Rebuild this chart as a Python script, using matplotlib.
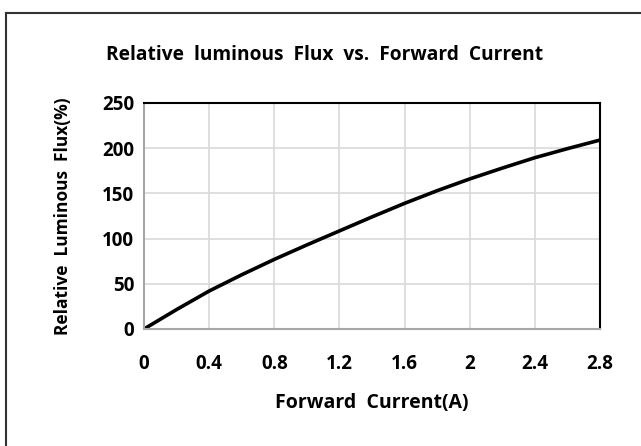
import matplotlib
matplotlib.use("Agg")
import matplotlib.pyplot as plt
from matplotlib.lines import Line2D

current = [0.0, 0.2, 0.4, 0.6, 0.8, 1.0, 1.2, 1.4, 1.6, 1.8, 2.0, 2.2, 2.4, 2.6, 2.8]
flux = [0, 21.5, 42, 60, 77, 93, 108.5, 124, 139, 153, 166, 178, 189.5, 199.5, 209]
xticks = [0, 0.4, 0.8, 1.2, 1.6, 2.0, 2.4, 2.8]
xticklabels = ["0", "0.4", "0.8", "1.2", "1.6", "2", "2.4", "2.8"]
yticks = [0, 50, 100, 150, 200, 250]

plt.rcParams['font.family'] = ['Open Sans', 'DejaVu Sans']

fig = plt.figure(figsize=(6.41, 4.46), dpi=100)
ax = fig.add_axes([144/641, 1-329/446, (600-144)/641, (329-103)/446])

ax.plot(current, flux, color='black', lw=2.6, solid_capstyle='round', solid_joinstyle='round')
ax.set_xlim(0, 2.8)
ax.set_ylim(0, 250)
ax.set_xticks(xticks)
ax.set_xticklabels(xticklabels)
ax.set_yticks(yticks)
ax.grid(True, color='#d9d9d9', lw=1.2)
ax.set_axisbelow(True)
ax.tick_params(length=0, labelsize=13.5)
ax.tick_params(axis='x', pad=18)
ax.tick_params(axis='y', pad=7)
for lab in ax.get_xticklabels() + ax.get_yticklabels():
    lab.set_fontweight('bold')
for s in ['top', 'right']:
    ax.spines[s].set_color('black')
    ax.spines[s].set_linewidth(1.5)
for s in ['left', 'bottom']:
    ax.spines[s].set_color('#a6a6a6')
    ax.spines[s].set_linewidth(1.5)

ax.set_xlabel('Forward  Current(A)', fontsize=14, fontweight='bold', labelpad=14)
ax.set_ylabel('Relative  Luminous  Flux(%)', fontsize=12.5, fontweight='bold', labelpad=22)
fig.text(325/641, 1-55/446, 'Relative  luminous  Flux  vs.  Forward  Current',
         ha='center', va='center', fontsize=13.8, fontweight='bold')

fig.add_artist(Line2D([6/641, 6/641], [0, 1-13/446], color='#333333', lw=1.5, transform=fig.transFigure))
fig.add_artist(Line2D([6/641, 1], [1-13/446, 1-13/446], color='#333333', lw=1.5, transform=fig.transFigure))

fig.savefig('out.png', dpi=100)
